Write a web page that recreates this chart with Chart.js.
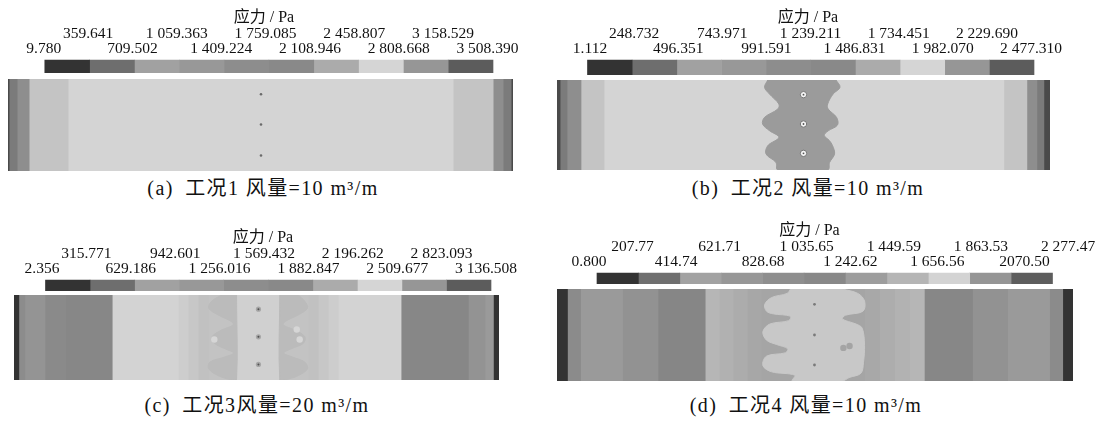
<!DOCTYPE html>
<html>
<head>
<meta charset="utf-8">
<script src="https://cdn.jsdelivr.net/npm/chart.js@4.4.1/dist/chart.umd.min.js"></script>
<style>
  body { margin: 0; background: #fff; width: 1097px; height: 421px; position: relative; overflow: hidden; }
  .cap { position: absolute; transform: translate(-50%, -50%); white-space: nowrap; line-height: 1;
         font-family: "Liberation Serif", "Noto Sans CJK SC", serif; font-size: 20px; letter-spacing: 1.4px; color: #111; }
</style>
</head>
<body>
<script>
// colour-bar levels, stress (Pa)
var levelsA = [9.780, 359.641, 709.502, 1059.363, 1409.224, 1759.085, 2108.946, 2458.807, 2808.668, 3158.529, 3508.390];
var labelsA = ['9.780', '359.641', '709.502', '1 059.363', '1 409.224', '1 759.085', '2 108.946', '2 458.807', '2 808.668', '3 158.529', '3 508.390'];
var levelsB = [1.112, 248.732, 496.351, 743.971, 991.591, 1239.211, 1486.831, 1734.451, 1982.070, 2229.690, 2477.310];
var labelsB = ['1.112', '248.732', '496.351', '743.971', '991.591', '1 239.211', '1 486.831', '1 734.451', '1 982.070', '2 229.690', '2 477.310'];
var levelsC = [2.356, 315.771, 629.186, 942.601, 1256.016, 1569.432, 1882.847, 2196.262, 2509.677, 2823.093, 3136.508];
var labelsC = ['2.356', '315.771', '629.186', '942.601', '1 256.016', '1 569.432', '1 882.847', '2 196.262', '2 509.677', '2 823.093', '3 136.508'];
var levelsD = [0.800, 207.77, 414.74, 621.71, 828.68, 1035.65, 1242.62, 1449.59, 1656.56, 1863.53, 2070.50, 2277.47];
var labelsD = ['0.800', '207.77', '414.74', '621.71', '828.68', '1 035.65', '1 242.62', '1 449.59', '1 656.56', '1 863.53', '2070.50', '2 277.47'];

// contour bands across the face, width in % of length
var bandsA = [0.2, 1.58, 2.38, 7.72, 76.24, 7.92, 1.98, 1.58, 0.4];
var bandsB = [0.6, 1.4, 2.84, 4.67, 81.1, 4.67, 2.03, 1.42, 1.27];
var bandsC = [0.97, 1.24, 4.13, 4.33, 9.55, 13.62, 2.06, 2.06, 2.06, 5.51, 9.70, 5.43, 2.06, 2.06, 2.06, 12.94, 13.88, 3.45, 1.71, 1.18];
var bandsD = [2.0, 2.54, 8.14, 6.88, 9.13, 2.72, 2.72, 2.72, 2.72, 20.03, 2.89, 2.89, 2.89, 2.89, 9.34, 6.8, 8.14, 2.54, 2.0];

// irregular zones (x = % of length, y = % of width)
var zoneBX = [42.75, 42.1, 43.1, 45.0, 44.8, 42.1, 41.7, 43.1, 45.0, 42.75, 42.4, 44.4, 44.8,
              54.9, 55.3, 56.3, 55.9, 55.2, 54.2, 55.0, 56.9, 56.7, 55.0, 54.9, 56.0, 57.4, 56.6];
var zoneBY = [0, 8.1, 15.6, 26.7, 32.2, 41.5, 48.9, 56.3, 63.7, 73, 82.2, 91.5, 100,
              100, 91.5, 82.2, 73, 67, 61.5, 56.5, 50, 41.5, 32.2, 26.7, 15.6, 8.1, 0];
var zoneC1X = [42.79, 40.73, 40.17, 42.09, 44.86, 45.19, 42.79, 40.86, 41.41, 43.47, 45.26, 43.47, 40.38, 40.17, 42.09, 44.86, 45.88, 45.88];
var zoneC1Y = [0, 7.5, 15.5, 23.4, 31.3, 35.3, 41.3, 49.2, 57.1, 63.1, 68.3, 73, 79, 86.9, 94.8, 100, 100, 0];
var zoneC2X = [54.8, 54.8, 55.85, 58.6, 60.5, 59.97, 57.4, 55.6, 57.2, 59.6, 59.97, 57.9, 55.5, 55.85, 58.6, 60.5, 59.97, 58.6];
var zoneC2Y = [0, 100, 100, 94.8, 86.9, 79, 73, 68.3, 63.1, 57.1, 49.2, 41.3, 35.3, 31.3, 23.4, 15.5, 7.5, 0];
var zoneDX = [45.25, 44.6, 41.6, 40.25, 40.6, 41.9, 45.25, 44.9, 41.25, 39.9, 40.6, 42.6, 44.7, 44.3, 40.6, 39.9, 41.6, 46.1, 45.6,
              55.3, 56.6, 58.9, 59.4, 59.6, 59.15, 57.95, 55.3, 55.9, 59.3, 59.6, 58.3, 55.3];
var zoneDY = [0, 4.8, 9.3, 16.7, 24.1, 27.0, 29.6, 34.4, 38.1, 46.3, 55.6, 60.4, 64.8, 69.3, 73.0, 83.3, 90.0, 93.7, 100,
              100, 96.3, 91.5, 79.6, 61.1, 42.6, 38.1, 32.6, 28.5, 24.1, 13.0, 4.8, 0];

// boreholes and small spots
var holesAX = [50.1, 50.1, 50.1], holesAY = [16.5, 49.5, 83.2];
var holesBX = [50, 50, 50],       holesBY = [16.3, 48.9, 81.5];
var holesCX = [50.4, 50.4, 50.4], holesCY = [16.7, 49.2, 81.7];
var spotsCX = [41.3, 58.3, 58.9], spotsCY = [52.4, 40.5, 52.4];
var holesDX = [49.9, 49.9, 49.9], holesDY = [16.7, 50, 82.6];
var spotsDX = [55.5, 56.7],       spotsDY = [64, 62];

var SERIF = '"Liberation Serif", "Noto Sans CJK SC", serif';
Chart.defaults.font.family = SERIF;
Chart.defaults.color = '#111';

var bar10 = ['#333333', '#6e6e6e', '#a1a1a1', '#989898', '#8d8d8d', '#898989', '#ababab', '#d5d5d5', '#969696', '#5c5c5c'];
var bar11 = ['#333333', '#6f6f6f', '#a2a2a2', '#979797', '#8e8e8e', '#888888', '#9d9d9d', '#b5b5b5', '#d3d3d3', '#959595', '#5d5d5d'];
var edgeColors = ['#4a4a4a', '#7b7b7b', '#8e8e8e', '#c4c4c4', '#d4d4d4', '#c4c4c4', '#8e8e8e', '#7b7b7b', '#4a4a4a'];
var colorsC = ['#333333', '#8c8c8c', '#949494', '#8a8a8a', '#878787', '#d3d3d3', '#cdcdcd', '#c7c7c7', '#c1c1c1', '#c3c3c3',
               '#d0d0d0', '#c3c3c3', '#c1c1c1', '#c7c7c7', '#cdcdcd', '#d3d3d3', '#878787', '#939393', '#9a9a9a', '#333333'];
var colorsD = ['#333333', '#8b8b8b', '#9a9a9a', '#929292', '#868686', '#b6b6b6', '#b1b1b1', '#acacac', '#a7a7a7', '#a5a5a5',
               '#a8a8a8', '#adadad', '#b2b2b2', '#b6b6b6', '#878787', '#929292', '#9a9a9a', '#8b8b8b', '#333333'];

function pts(xs, ys) { return xs.map(function(x, i) { return {x: x, y: ys[i]}; }); }

var panels = [
  { levels: levelsA, labels: labelsA, barColors: bar10, bands: bandsA, bandColors: edgeColors,
    cb: {titleX: 264, titleY: 17, labelFirst: 43.7, labelLast: 487.4, barLeft: 44.8, barRight: 493, barBottom: 73},
    field: {left: 8, top: 79, width: 505, height: 92},
    zones: [],
    marks: [{d: pts(holesAX, holesAY), r: 1.3, fill: '#6a6a6a'}],
    caption: {text: '(a)\u2002工况1 风量=10 m³/m', x: 263, y: 188} },
  { levels: levelsB, labels: labelsB, barColors: bar10, bands: bandsB, bandColors: edgeColors,
    cb: {titleX: 808, titleY: 17, labelFirst: 590, labelLast: 1031, barLeft: 587.5, barRight: 1034, barBottom: 75},
    field: {left: 557, top: 80, width: 493, height: 90},
    zones: [{d: pts(zoneBX, zoneBY), color: '#9b9b9b'}],
    marks: [{d: pts(holesBX, holesBY), r: 3.2, fill: '#f4f4f4', stroke: '#777777', bw: 1},
            {d: pts(holesBX, holesBY), r: 0.9, fill: '#555555'}],
    caption: {text: '(b)\u2002工况2 风量=10 m³/m', x: 808, y: 188} },
  { levels: levelsC, labels: labelsC, barColors: bar10, bands: bandsC, bandColors: colorsC,
    cb: {titleX: 263, titleY: 237, labelFirst: 42, labelLast: 486, barLeft: 45.5, barRight: 491, barBottom: 291},
    field: {left: 14, top: 295, width: 485, height: 85},
    zones: [{d: pts(zoneC1X, zoneC1Y), color: '#bbbbbb'}, {d: pts(zoneC2X, zoneC2Y), color: '#bbbbbb'}],
    marks: [{d: pts(spotsCX, spotsCY), r: 3.2, fill: '#d6d6d6'},
            {d: pts(holesCX, holesCY), r: 2.6, fill: '#a6a6a6'},
            {d: pts(holesCX, holesCY), r: 1, fill: '#505050'}],
    caption: {text: '(c)\u2002工况3风量=20 m³/m', x: 257, y: 405} },
  { levels: levelsD, labels: labelsD, barColors: bar11, bands: bandsD, bandColors: colorsD,
    cb: {titleX: 809.5, titleY: 230, labelFirst: 589, labelLast: 1068, barLeft: 597, barRight: 1052.5, barBottom: 284},
    field: {left: 557, top: 289, width: 516, height: 92},
    zones: [{d: pts(zoneDX, zoneDY), color: '#c8c8c8'}],
    marks: [{d: pts(spotsDX, spotsDY), r: 3.2, fill: '#a4a4a4'},
            {d: pts(holesDX, holesDY), r: 1.4, fill: '#7a7a7a'}],
    caption: {text: '(d)\u2002工况4 风量=10 m³/m', x: 806, y: 405} }
];

var PAD = 45;

function addCanvas(left, top, w, h) {
  var c = document.createElement('canvas');
  c.width = Math.round(w); c.height = Math.round(h);
  c.style.cssText = 'position:absolute;left:' + Math.round(left) + 'px;top:' + Math.round(top) + 'px;';
  document.body.appendChild(c);
  return c;
}

// map a pixel span (first..last holds v0..vn) onto the area a0..a1
function span(first, last, v0, vn, a0, a1) {
  var k = (vn - v0) / (last - first);
  return {min: v0 - (first - a0) * k, max: vn + (a1 - last) * k};
}

function colourBar(p) {
  var cb = p.cb, lv = p.levels, n = lv.length - 1;
  // plot area centred on the "应力 / Pa" heading, wide enough for bar and labels
  var hw = Math.max(cb.titleX - Math.min(cb.labelFirst, cb.barLeft), Math.max(cb.labelLast, cb.barRight) - cb.titleX);
  var a0 = cb.titleX - hw, a1 = cb.titleX + hw;
  var top = cb.titleY - 9;
  var canvas = addCanvas(a0 - PAD, top, a1 - a0 + 2 * PAD, cb.barBottom - top);
  var lr = span(cb.labelFirst, cb.labelLast, lv[0], lv[n], a0, a1);
  var br = span(cb.barLeft, cb.barRight, lv[0], lv[n], a0, a1);
  var tickFont = {size: 15.5, lineHeight: 0.95};

  var datasets = p.barColors.map(function(c, i) {
    return {data: [[lv[i], lv[i + 1]]], backgroundColor: c, borderWidth: 0, grouped: false, clip: false,
            categoryPercentage: 1, barPercentage: 1, xAxisID: 'xb', yAxisID: 'yb'};
  });

  function labelAxis(parity, weight, height, pad, title) {
    var ax = {
      type: 'linear', position: 'top', weight: weight, min: lr.min, max: lr.max, offset: false,
      grid: {display: false, drawTicks: false}, border: {display: false},
      afterBuildTicks: function(scale) {
        scale.ticks = lv.filter(function(v, i) { return i % 2 === parity; })
                        .map(function(v) { return {value: v}; });
      },
      afterFit: function(scale) { scale.height = height; },
      ticks: {autoSkip: false, maxRotation: 0, minRotation: 0, padding: pad, font: tickFont,
              callback: function(v, i) { return p.labels[i * 2 + parity]; }}
    };
    if (title) ax.title = title;
    return ax;
  }

  new Chart(canvas, {
    type: 'bar',
    data: {labels: [''], datasets: datasets},
    options: {
      indexAxis: 'y', responsive: false, animation: false,
      layout: {padding: {left: PAD, right: PAD, top: 0, bottom: 0}, autoPadding: false},
      plugins: {legend: {display: false}, tooltip: {enabled: false}},
      scales: {
        xb: {type: 'linear', min: br.min, max: br.max, offset: false, display: false},
        yb: {type: 'category', offset: true, display: false},
        x: labelAxis(0, 0, 19, 4),
        x2: labelAxis(1, 1, 33, 0, {display: true, text: '应力 / Pa', padding: 0,
                                   font: {size: 16, lineHeight: 1.2}})
      }
    }
  });
}

function field(p) {
  var f = p.field;
  var canvas = addCanvas(f.left, f.top, f.width, f.height);
  var datasets = p.bands.map(function(w, i) {
    return {type: 'bar', data: [w], backgroundColor: p.bandColors[i], borderWidth: 0, inflateAmount: 0.5,
            grouped: false, categoryPercentage: 1, barPercentage: 1, xAxisID: 'x', yAxisID: 'y', order: 3};
  });
  p.zones.forEach(function(z) {
    datasets.push({type: 'line', indexAxis: 'x', data: z.d, fill: 'shape', backgroundColor: z.color,
                   borderColor: z.color, borderWidth: 1, pointRadius: 0, tension: 0.35,
                   xAxisID: 'px', yAxisID: 'py', order: 2});
  });
  p.marks.forEach(function(m, i) {
    datasets.push({type: 'line', indexAxis: 'x', data: m.d, showLine: false,
                   pointRadius: m.r, pointBackgroundColor: m.fill,
                   pointBorderColor: m.stroke || m.fill, pointBorderWidth: m.bw || 0,
                   xAxisID: 'px', yAxisID: 'py', order: 1 - i * 0.1});
  });
  new Chart(canvas, {
    type: 'bar',
    data: {labels: [''], datasets: datasets},
    options: {
      indexAxis: 'y', responsive: false, animation: false,
      layout: {padding: 0, autoPadding: false},
      plugins: {legend: {display: false}, tooltip: {enabled: false}},
      scales: {
        x: {type: 'linear', stacked: true, min: 0, max: 100, offset: false, display: false},
        y: {type: 'category', stacked: true, offset: true, display: false},
        px: {type: 'linear', min: 0, max: 100, offset: false, display: false},
        py: {type: 'linear', min: 0, max: 100, reverse: true, offset: false, display: false}
      }
    }
  });
}

panels.forEach(function(p) {
  colourBar(p);
  field(p);
  var cap = document.createElement('div');
  cap.className = 'cap';
  cap.textContent = p.caption.text;
  cap.style.left = p.caption.x + 'px';
  cap.style.top = p.caption.y + 'px';
  document.body.appendChild(cap);
});
</script>
</body>
</html>
